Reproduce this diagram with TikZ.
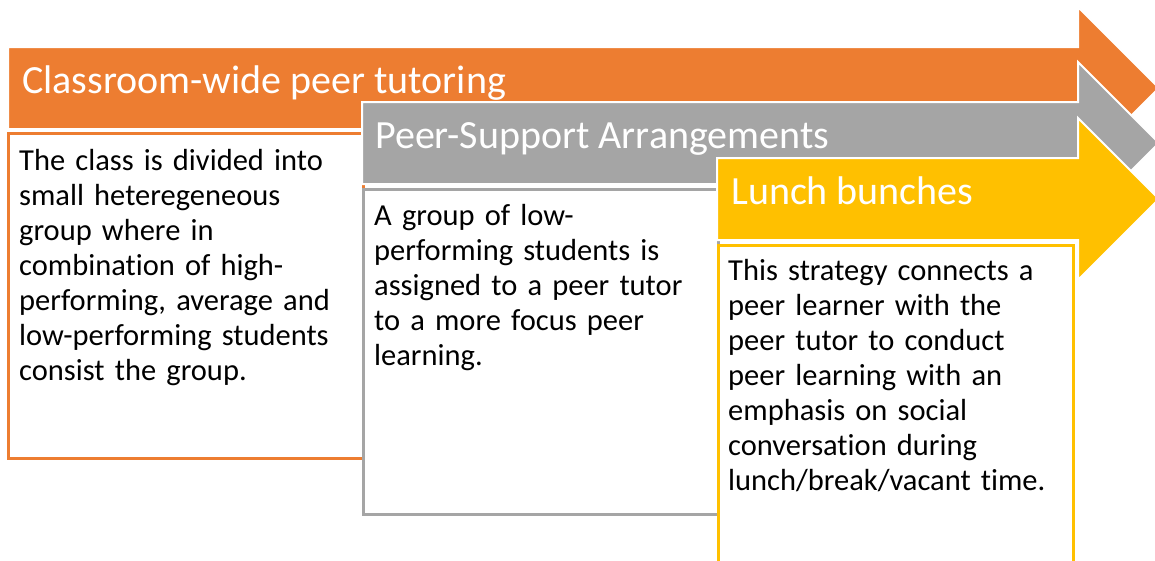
\documentclass[tikz,border=0pt]{standalone}
\usepackage{fontspec}
\setmainfont{Carlito}[Ligatures=NoCommon]
\usepackage{xcolor}
\usepackage{tikz}
\definecolor{tutorange}{RGB}{237,125,49}
\definecolor{tutgrey}{RGB}{165,165,165}
\definecolor{tutgold}{RGB}{255,192,0}

\begin{document}
\begin{tikzpicture}[x=1pt,y=-1pt,
  bandarrow/.style={draw=white,line width=2pt,line join=miter},
  headtext/.style={font=\fontsize{40}{48}\selectfont,text=white,inner sep=0pt,anchor=base west},
  notebox/.style={draw,fill=white,line width=2.5pt,minimum width=355pt,minimum height=325pt,inner sep=0pt,anchor=north west},
  bodytext/.style={font=\fontsize{30.5}{35}\selectfont,text width=345pt,align=left,inner sep=0pt,anchor=base west}]
  \useasboundingbox[fill=white] (0,0) rectangle (1155,560);
  % first step: classroom-wide tutoring
  \filldraw[bandarrow,fill=tutorange] (8,47) -- (1078,47) -- (1078,7) -- (1159,88) -- (1078,169) -- (1078,129) -- (8,129) -- cycle;
  \node[headtext] (cwhead) at (22,93) {Classroom-wide peer tutoring};
  \node[notebox,draw=tutorange] (cwbox) at (7,132) {};
  \node[bodytext] (cwtext) at (19,170) {The class is divided into\\ small heteregeneous\\ group where in\\ combination of high-\\ performing, average and\\ low-performing students\\ consist the group.};
  % second step: peer support
  \filldraw[bandarrow,fill=tutgrey] (362,102) -- (1078,102) -- (1078,62) -- (1159,143) -- (1078,224) -- (1078,184) -- (362,184) -- cycle;
  \node[headtext] (pshead) at (375,148) {Peer-Support Arrangements};
  \node[notebox,draw=tutgrey] (psbox) at (362,188) {};
  \node[bodytext] (pstext) at (374,225) {A group of low-\\ performing students is\\ assigned to a peer tutor\\ to a more focus peer\\ learning.};
  % third step: lunch bunches
  \filldraw[bandarrow,fill=tutgold] (717,158) -- (1078,158) -- (1078,118) -- (1159,199) -- (1078,280) -- (1078,240) -- (717,240) -- cycle;
  \node[headtext] (lbhead) at (731,204) {Lunch bunches};
  \node[notebox,draw=tutgold] (lbbox) at (717,244) {};
  \node[bodytext] (lbtext) at (728,280) {This strategy connects a\\ peer learner with the\\ peer tutor to conduct\\ peer learning with an\\ emphasis on social\\ conversation during\\ lunch/break/vacant time.};
\end{tikzpicture}
\end{document}
